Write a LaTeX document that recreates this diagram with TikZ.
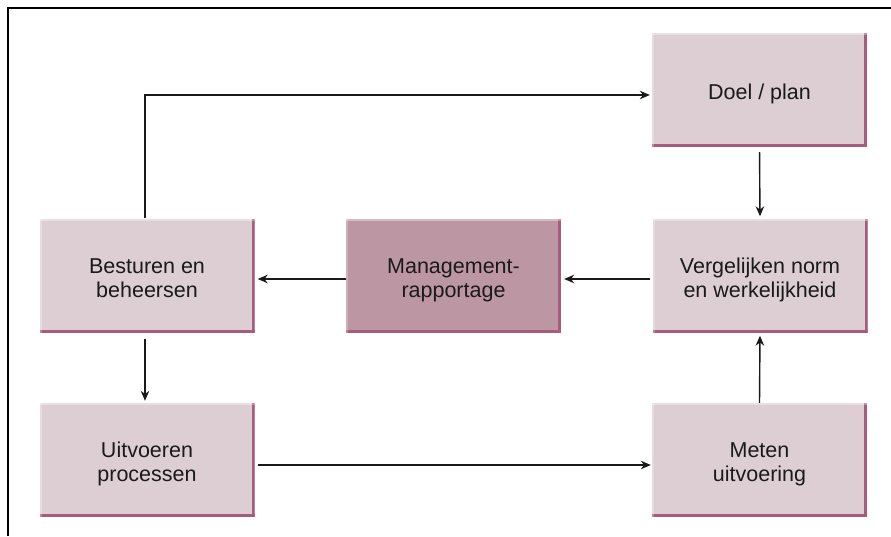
\documentclass[tikz,border=0pt]{standalone}
\usepackage{fontspec}
\setmainfont{Liberation Sans}
\usetikzlibrary{arrows.meta,calc}
\definecolor{boxfill}{HTML}{DDCED4}
\definecolor{boxdark}{HTML}{BC97A3}
\definecolor{bevelc}{HTML}{A85B7D}
\definecolor{textc}{HTML}{1A1A1A}
\newcommand{\boxlines}[1]{\raisebox{-5pt}[\height][\depth]{\begin{tabular}{@{}c@{}}#1\end{tabular}}}
\tikzset{
 stepbox/.style={fill=boxfill, minimum width=215pt, minimum height=114pt, inner sep=0pt, align=center,
   font=\fontsize{21.5}{24}\selectfont, text=textc,
   path picture={
     \fill[bevelc] ([xshift=-3pt]path picture bounding box.north east) rectangle (path picture bounding box.south east);
     \fill[bevelc] ([yshift=3pt]path picture bounding box.south west) rectangle (path picture bounding box.south east);
     \fill[white,opacity=0.35] (path picture bounding box.north west) rectangle ([yshift=-2pt]path picture bounding box.north east);
     \fill[white,opacity=0.25] (path picture bounding box.north west) rectangle ([xshift=2pt]path picture bounding box.south west);
   }},
 arr/.style={-{Stealth[length=10pt,width=8.5pt]}, line width=1.4pt, black!90},
}
\begin{document}
\begin{tikzpicture}[x=1pt,y=-1pt]
\path[use as bounding box] (0,0) rectangle (891,536);
\fill[white] (0,0) rectangle (891,536);
\draw[line width=2pt] (8,536) -- (8,8) -- (891,8);

\node[stepbox] (doel) at (759.5,90) {\boxlines{Doel / plan}};
\node[stepbox] (verg) at (760,275.5) {\boxlines{Vergelijken norm\\en werkelijkheid}};
\node[stepbox, fill=boxdark] (mgmt) at (453.5,275.5) {\boxlines{Management-\\rapportage}};
\node[stepbox] (best) at (147,275.5) {\boxlines{Besturen en\\beheersen}};
\node[stepbox] (uitv) at (147,460) {\boxlines{Uitvoeren\\processen}};
\node[stepbox] (meten) at (759.5,460) {\boxlines{Meten\\uitvoering}};

\draw[arr, shorten >=2pt] ([xshift=-2pt]best.north) |- ([yshift=-5pt]doel.west);
\draw[arr, shorten <=5pt, shorten >=2pt] (doel.south) -- (verg.north);
\draw[arr, shorten <=2pt, shorten >=3pt] ([yshift=-3.5pt]verg.west) -- ([yshift=-3.5pt]mgmt.east);
\draw[arr, shorten >=3pt] ([yshift=-3.5pt]mgmt.west) -- ([yshift=-3.5pt]best.east);
\draw[arr, shorten <=6pt, shorten >=2pt] ([xshift=-2pt]best.south) -- ([xshift=-2pt]uitv.north);
\draw[arr, shorten <=3pt, shorten >=1pt] ([yshift=-5pt]uitv.east) -- ([yshift=-5pt]meten.west);
\draw[arr, shorten >=3pt] (meten.north) -- (verg.south);
\end{tikzpicture}
\end{document}
